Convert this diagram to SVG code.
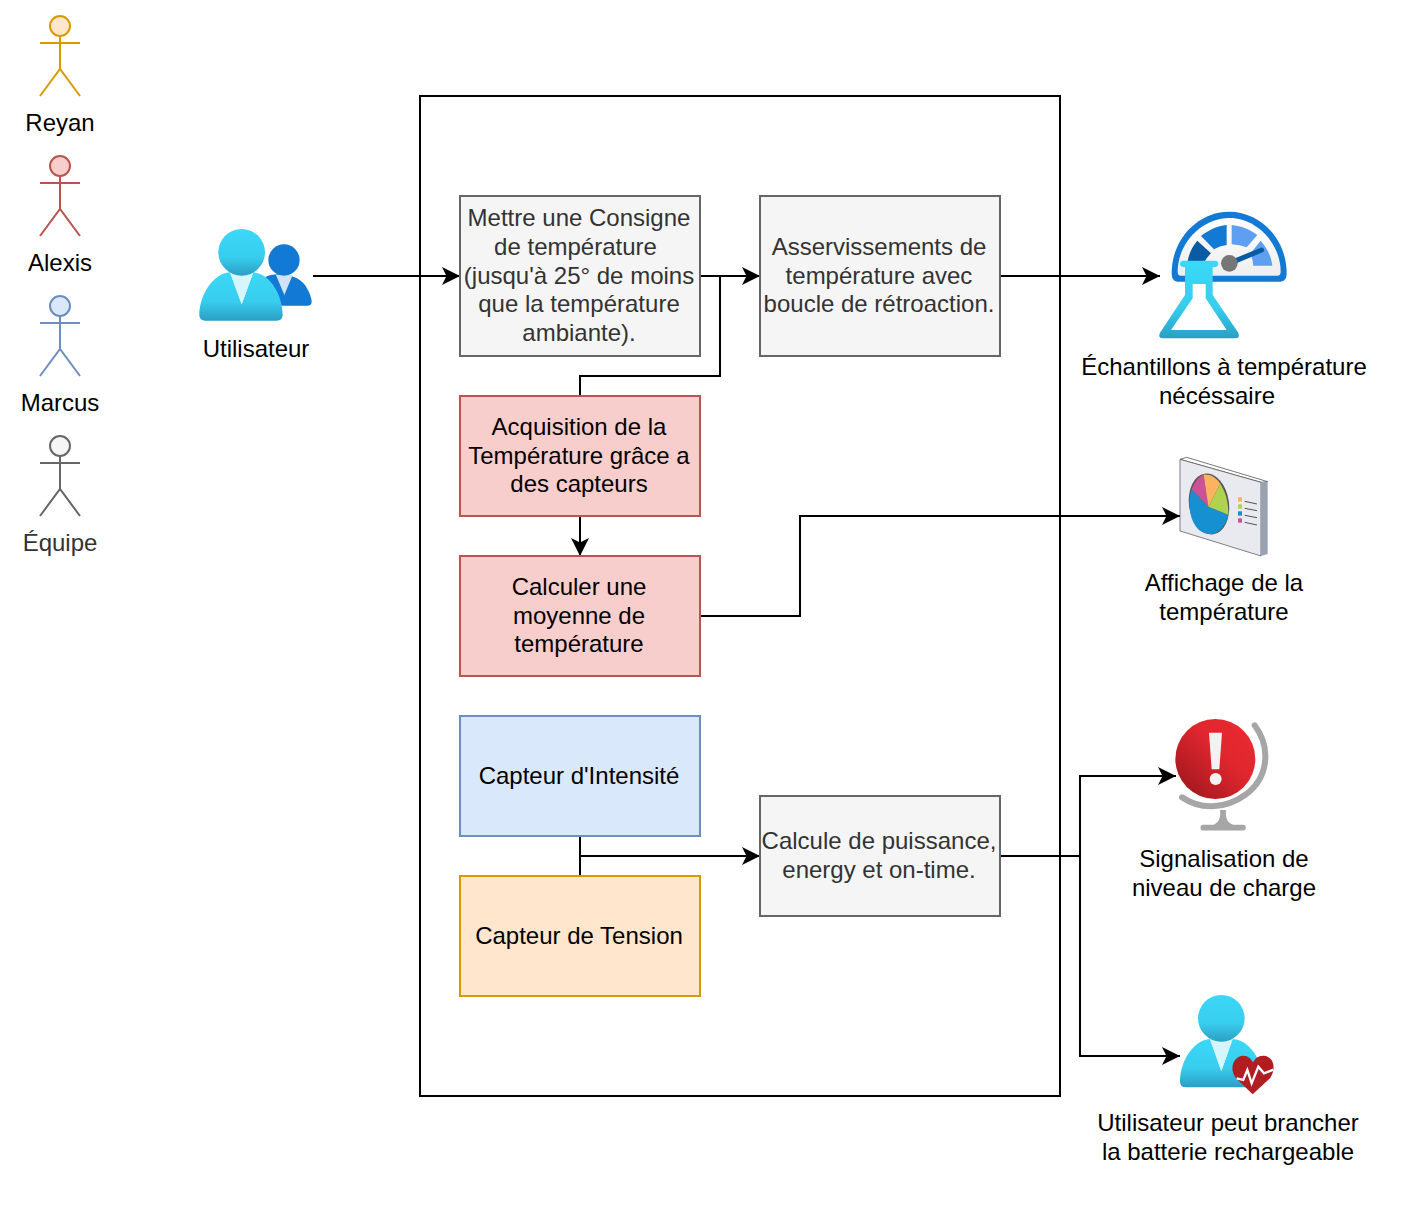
<svg xmlns="http://www.w3.org/2000/svg" width="1402" height="1207" viewBox="0 0 1402 1207">
<style>
text{font-family:"Liberation Sans",Arial,sans-serif;font-size:24px;text-anchor:middle;fill:#000}
.dk text,text.dk{fill:#333}
.grey rect{fill:#f5f5f5;stroke:#666;stroke-width:2}
.red rect{fill:#f8cecc;stroke:#b85450;stroke-width:2}
.blue rect{fill:#dae8fc;stroke:#6c8ebf;stroke-width:2}
.orange rect{fill:#ffe6cc;stroke:#d79b00;stroke-width:2}
.actor path{fill:none;stroke-width:2}
.actor circle{stroke-width:2}
#connectors path{fill:none;stroke:#000;stroke-width:2}
#connectors path.a{marker-end:url(#arrow)}
</style>
<defs>
<marker id="arrow" markerUnits="userSpaceOnUse" markerWidth="20" markerHeight="20" viewBox="-19 -10 20 20" refX="0" refY="0" orient="auto" overflow="visible"><path d="M-18 -9 L0 0 L-18 9 L-13.500 0 Z" fill="#000"/></marker>
<linearGradient id="cy" x1="0" y1="0" x2="0" y2="1"><stop offset="0" stop-color="#3bd8f8"/><stop offset=".6" stop-color="#38cdee"/><stop offset="1" stop-color="#2a9fc4"/></linearGradient>
<linearGradient id="alert" x1="0.1" y1="0.9" x2="0.9" y2="0.1"><stop offset="0" stop-color="#a3181e"/><stop offset=".6" stop-color="#e0262e"/><stop offset="1" stop-color="#e92a32"/></linearGradient>
<linearGradient id="gw" x1="0" y1="0" x2="0" y2="1"><stop offset="0" stop-color="#fff"/><stop offset="1" stop-color="#eee"/></linearGradient>
</defs>
<rect x="420" y="96" width="640" height="1000" fill="#fff" stroke="#000" stroke-width="2"/>
<g id="connectors">
<path class="a" d="M313 276H460"/>
<path class="a" d="M700 276H760"/>
<path class="a" d="M1000 276H1160"/>
<path d="M580 396V376H720V276"/>
<path class="a" d="M580 516V556"/>
<path class="a" d="M700 616H800V516H1180"/>
<path class="a" d="M580 836V856H760"/>
<path d="M580 876V856"/>
<path class="a" d="M1000 856H1080V776H1176"/>
<path class="a" d="M1080 856V1056H1180"/>
</g>
<g id="actor-reyan" class="actor"><circle cx="60" cy="26" r="10" fill="#ffe6cc" stroke="#d79b00"/><path d="M60 36V69M40 43H80M40 96L60 69L80 96" stroke="#d79b00"/><text x="60" y="131">Reyan</text></g>
<g id="actor-alexis" class="actor"><circle cx="60" cy="166" r="10" fill="#f8cecc" stroke="#b85450"/><path d="M60 176V209M40 183H80M40 236L60 209L80 236" stroke="#b85450"/><text x="60" y="271">Alexis</text></g>
<g id="actor-marcus" class="actor"><circle cx="60" cy="306" r="10" fill="#dae8fc" stroke="#6c8ebf"/><path d="M60 316V349M40 323H80M40 376L60 349L80 376" stroke="#6c8ebf"/><text x="60" y="411">Marcus</text></g>
<g id="actor-equipe" class="actor"><circle cx="60" cy="446" r="10" fill="#f5f5f5" stroke="#666"/><path d="M60 456V489M40 463H80M40 516L60 489L80 516" stroke="#666"/><text x="60" y="551" class="dk">Équipe</text></g>
<g id="utilisateur">
<g transform="translate(190 220) scale(.3333)">
<path d="M225 172C250 155 320 160 345 195C358 215 365 235 365 245Q365 257 352 257H240Z" fill="#1279d4"/>
<path d="M258 165H308L283 225Z" fill="#d0e3f6"/>
<circle cx="282" cy="120" r="47" fill="#1279d4"/>
<path d="M28 285C28 225 70 160 120 157L155 253L190 157C240 160 278 225 278 285Q278 302 260 302H46Q28 302 28 285Z" fill="url(#cy)"/>
<path d="M120 157H190L155 253Z" fill="#d6f5fd"/>
<circle cx="155" cy="97" r="70" fill="url(#cy)"/>
</g>
<text x="256" y="357">Utilisateur</text>
</g>
<g id="consigne" class="grey dk"><rect x="460" y="196" width="240" height="160"/>
<text x="579" y="226">Mettre une Consigne</text><text x="575.500" y="255">de température</text><text x="579" y="284">(jusqu'à 25° de moins</text><text x="579" y="312">que la température</text><text x="579" y="341">ambiante).</text></g>
<g id="asservissement" class="grey dk"><rect x="760" y="196" width="240" height="160"/>
<text x="879" y="255">Asservissements de</text><text x="879" y="284">température avec</text><text x="879" y="312">boucle de rétroaction.</text></g>
<g id="acquisition" class="red"><rect x="460" y="396" width="240" height="120"/>
<text x="579" y="435">Acquisition de la</text><text x="579" y="464">Température grâce a</text><text x="579" y="492">des capteurs</text></g>
<g id="moyenne" class="red"><rect x="460" y="556" width="240" height="120"/>
<text x="579" y="595">Calculer une</text><text x="579" y="624">moyenne de</text><text x="579" y="652">température</text></g>
<g id="intensite" class="blue"><rect x="460" y="716" width="240" height="120"/><text x="579" y="784">Capteur d'Intensité</text></g>
<g id="tension" class="orange"><rect x="460" y="876" width="240" height="120"/><text x="579" y="944">Capteur de Tension</text></g>
<g id="calcul" class="grey dk"><rect x="760" y="796" width="240" height="120"/>
<text x="879" y="849">Calcule de puissance,</text><text x="879" y="878">energy et on-time.</text></g>
<g id="echantillons">
<g transform="translate(1140 190) scale(.3333)">
<path d="M112 275Q95 275 95 250C95 145 175 65 268 65C360 65 440 145 440 250Q440 275 422 275Z" fill="#1279d4"/>
<path d="M122 257Q113 257 113 245C113 160 185 84 268 84C350 84 422 160 422 245Q422 257 412 257Z" fill="url(#gw)"/>
<path d="M143 213C147 190 157 170 172 152L213 190Q200 203 195 213Z" fill="#0a5ba3"/>
<path d="M183 138C205 120 232 108 260 105V165Q238 168 222 178Z" fill="#1279d4"/>
<path d="M275 105C303 108 330 118 352 135L320 172Q300 165 275 163Z" fill="#5ea0ef"/>
<path d="M362 152C382 175 394 200 397 227H340Q338 207 332 190Z" fill="#5ea0ef"/>
<path d="M268 220L365 180" stroke="#0a5ba3" stroke-width="15" stroke-linecap="round" fill="none"/>
<circle cx="268" cy="220" r="25" fill="#767676"/>
<path d="M130 212H225Q235 212 235 222Q235 232 218 232V315L295 428Q302 445 285 445H70Q52 445 60 428L135 315V232Q120 232 120 222Q120 212 130 212ZM158 282V325L93 420H260L197 325V282Z" fill-rule="evenodd" fill="url(#cy)"/>
</g>
<text x="1224" y="375">Échantillons à température</text><text x="1217" y="404">nécéssaire</text>
</g>
<g id="affichage">
<g transform="translate(1160 440) scale(.3333)">
<path d="M60 58L80 52L323 125L303 127Z" fill="#fff" stroke="#333" stroke-width="2"/>
<path d="M60 58L303 127V348L60 273Z" fill="#e9eaef" stroke="#444" stroke-width="2"/>
<path d="M303 127L323 125V342L303 348Z" fill="#99a2b3"/>
<ellipse cx="147" cy="192" rx="60" ry="92" fill="#555" transform="rotate(-8 147 192)"/>
<path d="M145 200L95 148C87 170 85 200 95 235C108 270 130 285 155 282C180 278 198 255 205 224Z" fill="#1690d0"/>
<path d="M145 200L95 148C103 125 118 107 131 104Z" fill="#cc5195"/>
<path d="M145 200L131 104C150 102 168 112 181 131Z" fill="#fbb360"/>
<path d="M145 200L181 131C197 155 206 190 205 224Z" fill="#b0d24f"/>
<rect x="234" y="172" width="12" height="13" fill="#fbb360"/><rect x="234" y="193" width="12" height="13" fill="#b0d24f"/><rect x="234" y="214" width="12" height="13" fill="#1690d0"/><rect x="234" y="235" width="12" height="13" fill="#cc5195"/>
<path d="M254 184L291 192M254 205L291 212M254 226L291 233M254 247L291 255" stroke="#333" stroke-width="2.500" fill="none"/>
</g>
<text x="1224" y="591">Affichage de la</text><text x="1224" y="620">température</text>
</g>
<g id="signalisation">
<g transform="translate(1150 710) scale(.3333)">
<path d="M314 46C365 115 355 205 285 255C225 298 150 300 96 262" fill="none" stroke="#a6a6a6" stroke-width="18" stroke-linecap="round"/>
<path d="M210 300C213 325 205 338 190 345H250C232 338 226 325 228 300Z" fill="#a6a6a6"/>
<path d="M160 353H279" stroke="#a6a6a6" stroke-width="17" stroke-linecap="round" fill="none"/>
<circle cx="196" cy="147" r="120" fill="url(#alert)"/>
<path d="M177 68H216L208 178H185Z" fill="#f2f2f2"/>
<circle cx="197" cy="207" r="18" fill="#f2f2f2"/>
</g>
<text x="1224" y="867">Signalisation de</text><text x="1224" y="896">niveau de charge</text>
</g>
<g id="batterie">
<g transform="translate(1160 985) scale(.3333)">
<path d="M60 290C60 230 100 165 150 162L184 258L218 162C270 165 310 230 310 290Q310 307 290 307H78Q60 307 60 290Z" fill="url(#cy)"/>
<path d="M150 162H218L184 258Z" fill="#d6f5fd"/>
<circle cx="184" cy="100" r="70" fill="url(#cy)"/>
<path d="M278 328L228 280C205 250 222 212 250 212C265 212 273 222 279 232C285 222 293 212 310 212C338 212 352 248 330 280Z" fill="#b01e22"/>
<path d="M230 280L250 285L262 255L275 295L295 245L312 265L340 254" fill="none" stroke="#fff" stroke-width="7"/>
</g>
<text x="1228" y="1131">Utilisateur peut brancher</text><text x="1228" y="1160">la batterie rechargeable</text>
</g>
</svg>
